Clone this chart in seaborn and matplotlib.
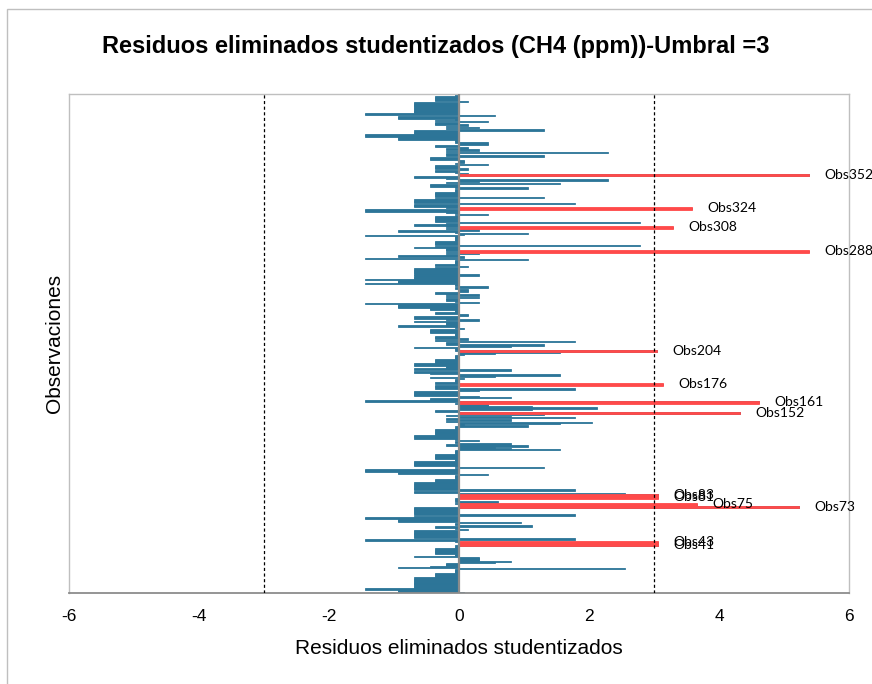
import numpy as np
import pandas as pd
import seaborn as sns
import matplotlib.pyplot as plt
from matplotlib.patches import Rectangle

# residuos por observacion, de la Obs420 (arriba) a la Obs1 (abajo)
residuos = [
    # Obs420 - Obs351
    -0.06, -0.06, -0.37, -0.37, -0.37, -0.37, 0.14, -0.69, -0.69, -0.69,
    -0.69, -0.69, -0.69, -0.69, -0.69, -0.69, -1.44, -1.44, 0.55, -0.94,
    -0.94, -0.06, -0.37, 0.45, -0.37, -0.37, 0.14, -0.2, 0.31, -0.2,
    1.3, -0.69, -0.69, -0.69, -1.44, -1.44, -0.94, -0.94, -0.94, -0.06,
    -0.06, 0.45, 0.45, -0.37, -0.37, 0.14, -0.2, 0.31, -0.2, 2.29,
    -0.2, -0.2, 1.3, -0.45, -0.45, -0.45, 0.07, 0.07, -0.06, 0.45,
    -0.37, -0.37, -0.37, 0.14, -0.37, -0.37, -0.06, 0.14, 5.38, -0.69,
    # Obs350 - Obs280
    -0.69, -0.2, 2.29, 0.31, -0.2, 1.55, -0.45, -0.45, -0.06, 1.06,
    -0.06, -0.06, -0.06, -0.37, -0.37, -0.37, -0.37, 1.3, -0.37, -0.69,
    -0.69, -0.69, 1.78, -0.69, -0.69, -0.2, 3.58, -1.44, -1.44, -0.2,
    -0.06, 0.45, -0.06, -0.37, -0.37, -0.37, -0.37, -0.37, 2.78, -0.2,
    -0.69, -0.2, 3.29, -0.2, 0.31, -0.94, -0.06, 1.06, 0.07, -1.44,
    -0.06, -0.06, -0.06, -0.06, -0.37, -0.37, -0.37, 2.78, -0.37, -0.69,
    -0.2, -0.2, 5.38, -0.2, 0.31, -0.2, -0.94, 0.07, -1.44, 1.06,
    -0.06,
    # Obs279 - Obs208
    -0.06, -0.06, -0.37, -0.37, 0.14, -0.37, -0.69, -0.69, -0.69, -0.69,
    -0.69, 0.31, -0.69, -0.69, -0.69, -1.44, -0.94, -0.94, -1.44, -0.06,
    -0.06, 0.45, -0.06, 0.14, 0.14, 0.14, -0.37, -0.2, 0.31, -0.2,
    0.31, -0.2, -0.2, -0.06, 0.31, -1.44, -0.94, -0.94, -0.94, -0.45,
    -0.45, -0.06, -0.06, -0.37, 0.14, 0.14, -0.69, -0.69, -0.2, 0.31,
    -0.69, -0.2, -0.2, -0.2, -0.94, -0.06, 0.07, -0.45, -0.45, -0.45,
    -0.06, -0.06, -0.06, -0.37, -0.37, 0.14, -0.37, 1.78, -0.2, -0.2,
    1.3, 0.8,
    # Obs207 - Obs137
    -0.69, -0.06, -0.06, 3.05, 1.55, 0.55, 0.07, -0.06, -0.06, -0.06,
    -0.37, -0.37, -0.37, -0.37, -0.69, -0.69, -0.2, -0.2, -0.69, 0.8,
    -0.69, -0.69, -0.45, 1.55, 0.55, -0.45, 0.07, -0.06, -0.06, -0.06,
    -0.37, 3.14, -0.37, -0.37, -0.37, 1.78, 0.31, -0.69, -0.69, -0.69,
    -0.69, 0.31, 0.8, -0.45, -0.45, -1.44, 4.62, -0.06, 0.45, 0.45,
    1.13, 2.13, 1.13, -0.37, -0.37, 4.32, 1.3, -0.2, 0.8, 1.78,
    -0.2, 0.8, -0.2, 2.04, 1.55, 0.07, 1.06, -0.06, -0.06, -0.37,
    -0.37,
    # Obs136 - Obs64
    -0.37, -0.37, -0.37, -0.69, -0.69, -0.69, -0.06, 0.31, -0.06, -0.06,
    0.8, -0.2, 1.06, 0.55, 0.8, 1.55, -0.06, -0.06, -0.06, -0.37,
    -0.37, -0.37, -0.37, -0.06, -0.06, -0.69, -0.69, -0.69, -0.69, -0.06,
    1.3, -0.06, -1.44, -1.44, -0.94, -0.94, 0.45, -0.06, -0.06, -0.06,
    -0.37, -0.37, -0.37, -0.69, -0.69, -0.69, -0.69, -0.69, -0.69, 1.78,
    -0.69, -0.69, 2.55, 3.06, 0.55, 3.06, -0.06, -0.06, -0.06, 0.6,
    -0.06, 3.66, 1.13, 5.23, -0.69, -0.69, -0.69, -0.69, -0.69, -0.69,
    1.78, -0.69, -1.44,
    # Obs63 - Obs1
    -1.44, -0.94, -0.94, 0.95, -0.06, -0.06, 1.13, -0.37, -0.06, 0.14,
    -0.69, -0.69, -0.69, -0.69, -0.69, -0.69, -0.69, 1.78, -1.44, -0.06,
    3.06, 0.55, 3.06, -0.06, -0.06, -0.37, -0.37, -0.37, -0.37, -0.37,
    -0.06, -0.06, -0.69, 0.31, 0.31, 0.31, 0.8, 0.55, -0.2, -0.2,
    -0.45, -0.94, 2.55, -0.06, -0.06, -0.06, -0.37, -0.37, -0.37, -0.37,
    -0.69, -0.69, -0.69, -0.69, -0.69, -0.69, -0.69, -0.69, -0.69, -1.44,
    -0.94, -0.94, 0.07,
]
observaciones = list(range(len(residuos), 0, -1))
umbral = 3

df = pd.DataFrame({"obs": observaciones, "res": residuos})
atipicos = df[df["res"].abs() > umbral]

sns.set_style("white")
plt.rcParams["font.family"] = ["Liberation Sans", "DejaVu Sans"]
plt.rcParams["text.color"] = "black"
plt.rcParams["axes.labelcolor"] = "black"
plt.rcParams["xtick.color"] = "black"

azul = "#2C7598"
rojo = "#FF4A4A"

fig = plt.figure(figsize=(8.72, 6.84), dpi=100)
ax = fig.add_axes([69 / 872, 1 - 593 / 684, 780 / 872, 499.3 / 684])

sns.barplot(data=df, x="res", y="obs", orient="h", native_scale=True,
            color=azul, saturation=1, width=1.2, errorbar=None,
            linewidth=0.6, edgecolor=azul, ax=ax)
sns.barplot(data=atipicos, x="res", y="obs", orient="h", native_scale=True,
            color=rojo, saturation=1, width=1.1, errorbar=None,
            linewidth=0.6, edgecolor=rojo, ax=ax)

for _, row in atipicos.iterrows():
    ax.annotate(f"Obs{int(row['obs'])}", (row["res"], row["obs"]),
                xytext=(11, 0), textcoords="offset points", va="center",
                ha="left", fontsize=10, family=["Lato", "DejaVu Sans"],
                annotation_clip=False)

ax.axvline(0, color="#8C8C8C", lw=1.6, zorder=4)
for v in (-umbral, umbral):
    ax.axvline(v, color="black", lw=0.9, ls=(0, (2.5, 2)), zorder=4)

ax.set_xlim(-6, 6)
ax.set_ylim(0.5, len(residuos) + 0.5)
ax.set_xticks(np.arange(-6, 7, 2))
ax.set_xticklabels([str(t) for t in range(-6, 7, 2)])
ax.set_yticks([])
ax.tick_params(axis="x", direction="inout", length=9, width=1,
               color="#8C8C8C", labelcolor="black", labelsize=12.5, pad=7)
for side, sp in ax.spines.items():
    sp.set_color("#BFBFBF")
    sp.set_linewidth(1)
ax.spines["bottom"].set_color("#8C8C8C")
ax.spines["bottom"].set_linewidth(1.3)

ax.set_xlabel("")
ax.set_ylabel("Observaciones", fontsize=15, color="black")
ax.yaxis.set_label_coords(-0.007, 0.5)

fig.text(436 / 872, 1 - 47 / 684,
         "Residuos eliminados studentizados (CH4 (ppm))-Umbral =3",
         ha="center", va="center", fontsize=17, fontweight="bold")
fig.text(459 / 872, 1 - 649 / 684, "Residuos eliminados studentizados",
         ha="center", va="center", fontsize=15)

fig.patches.append(Rectangle((7 / 872, -0.1), 1.2, 1.1 - 9 / 684,
                             transform=fig.transFigure, fill=False,
                             edgecolor="#BFBFBF", lw=1))

fig.savefig("out.png", dpi=100)
